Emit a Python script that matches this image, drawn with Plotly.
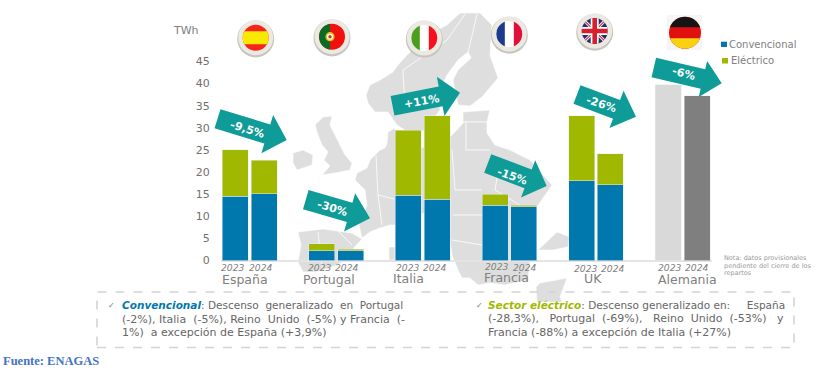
import numpy as np
import plotly.graph_objects as go

W, H = 836, 370

# ---------- data ----------
countries = ["España", "Portugal", "Italia", "Francia", "UK", "Alemania"]
years = ["2023", "2024"]
convencional = [14.5, 15.1, 2.2, 2.15, 14.75, 13.9, 12.5, 12.1, 18.0, 17.15]
electrico = [10.5, 7.6, 1.6, 0.45, 14.65, 18.8, 2.5, 0.45, 14.7, 6.95]
alemania_total = [39.7, 37.3]
variaciones = ["-9,5%", "-30%", "+11%", "-15%", "-26%", "-6%"]

BLUE, GREEN, TEAL = "#0078AD", "#A0B900", "#0F9B97"
GREY, MAP = "#808080", "#DEDEDE"
FONT = "DejaVu Sans"
NB = "\u00a0"

slots = []
for i, c in enumerate(countries):
    slots += [f"{c} {y}" for y in years]
    if i < len(countries) - 1:
        slots.append(" " * (i + 1))
stack_x = [f"{c} {y}" for c in countries[:5] for y in years]
ale_x = [f"Alemania {y}" for y in years]

fig = go.Figure()
fig.add_bar(x=stack_x, y=convencional, name="Convencional", marker_color=BLUE)
fig.add_bar(x=stack_x, y=electrico, name="Eléctrico", marker_color=GREEN)
fig.add_bar(x=ale_x, y=alemania_total, name="Alemania", marker_color=["#D9D9D9", "#7F7F7F"])

# ---------- helpers (pixel -> paper) ----------
shapes, annos = [], []
def px(x): return x / W
def py(y): return 1 - y / H

def poly(pts, fill, line=None, lw=0, layer="above"):
    d = "M" + " L".join(f"{px(x):.5f} {py(y):.5f}" for x, y in pts) + " Z"
    shapes.append(dict(type="path", path=d, xref="paper", yref="paper", fillcolor=fill, layer=layer,
                       line=dict(color=line or fill, width=lw)))

def polyline(pts, color="white", lw=0.8):
    d = "M" + " L".join(f"{px(x):.5f} {py(y):.5f}" for x, y in pts)
    shapes.append(dict(type="path", path=d, xref="paper", yref="paper", layer="below",
                       line=dict(color=color, width=lw)))

def disc(cx, cy, r, fill):
    shapes.append(dict(type="circle", xref="paper", yref="paper", x0=px(cx-r), x1=px(cx+r),
                       y0=py(cy+r), y1=py(cy-r), fillcolor=fill, line=dict(width=0), layer="above"))

def vstrip(cx, cy, r, x0, x1, fill):
    xs = np.linspace(max(x0, cx-r), min(x1, cx+r), 16)
    h = np.sqrt(np.maximum(r*r - (xs-cx)**2, 0))
    poly(list(zip(xs, cy-h)) + list(zip(xs[::-1], (cy+h)[::-1])), fill)

def hstrip(cx, cy, r, y0, y1, fill):
    ys = np.linspace(max(y0, cy-r), min(y1, cy+r), 16)
    w = np.sqrt(np.maximum(r*r - (ys-cy)**2, 0))
    poly(list(zip(cx-w, ys)) + list(zip((cx+w)[::-1], ys[::-1])), fill)

def text(x, y, s, size=10.5, color="#666666", anchor="left", angle=0, family=FONT):
    if anchor == "left":
        x -= 2
    annos.append(dict(xref="paper", yref="paper", x=px(x), y=py(y), text=s, showarrow=False,
                      xanchor=anchor, yanchor="middle", textangle=angle, align="left",
                      font=dict(size=size, color=color, family=family)))

def arrow(tail, tip, hb, hw, bw=20):
    t, p, b = map(np.array, (tail, tip, hb))
    u = (p - t) / np.linalg.norm(p - t)
    n = np.array([-u[1], u[0]])
    base = p - u * np.dot(p - b, u)
    pts = [t + n*bw/2, base + n*bw/2, base + n*hw/2, p, base - n*hw/2, base - n*bw/2, t - n*bw/2]
    poly([tuple(q) for q in pts], TEAL)

# ---------- background map ----------
land = [
 [(460,13),(447,25),(437,30),(423,38),(415,47),(407,55),(398,65),(393,72),(380,80),(370,85),(366,95),(368,103),
  (375,112),(388,112),(397,125),(412,135),(425,130),(440,110),(440,90),(447,75),(458,60),(468,52),(471,58),(458,70),
  (453,80),(456,95),(458,105),(470,106),(482,97),(498,78),(490,55),(492,25),(480,13)],
 [(463,112),(490,110),(487,122),(463,122)],
 [(357,173),(367,168),(370,160),(380,150),(385,148),(387,143),(388,132),(395,128),(396,145),(405,150),(425,147),
  (445,142),(455,132),(464,122),(487,122),(487,133),(495,145),(510,150),(530,160),(552,185),(537,207),(536,240),
  (530,262),(528,280),(505,285),(490,283),(478,285),(470,278),(462,278),(458,270),(452,255),(450,240),(450,200),
  (420,215),(395,225),(390,225),(380,228),(370,232),(362,238),(359,225),(367,205),(365,190),(355,180)],
 [(298,232),(323,229),(352,233),(362,239),(352,250),(343,262),(330,268),(315,272),(303,272),(298,262),(301,245)],
 [(323,117),(332,116),(330,125),(335,135),(340,145),(345,155),(352,163),(350,170),(335,173),(322,175),(330,166),
  (324,160),(328,152),(322,145),(318,135),(315,125)],
 [(293,153),(303,150),(313,155),(312,165),(297,170),(293,163)],
 [(389,247),(395,247),(395,260),(389,260)],
 [(557,232),(570,237),(568,247),(553,250),(538,250)],
 [(567,278),(560,297),(562,302),(537,302),(536,287),(540,283)],
]
for p in land:
    poly(p, MAP, "white", 0.6, layer="below")
for b in [[(465,14),(447,40),(403,70),(405,112)], [(477,14),(471,40),(468,52)],
          [(376,155),(378,195),(382,225)], [(378,195),(398,200)], [(452,150),(455,190),(482,190)],
          [(453,215),(482,215)], [(466,122),(466,150),(490,150)], [(318,232),(322,268)],
          [(336,229),(352,245)], [(500,160),(495,190),(536,215)], [(452,240),(482,245)]]:
    polyline(b)
shapes.append(dict(type="line", xref="paper", yref="paper", x0=px(221), x1=px(712), y0=py(261), y1=py(261),
                   line=dict(color="#E4E4E4", width=2), layer="below"))

# ---------- flags ----------
def halo(cx, cy):
    disc(cx, cy+1.2, 18.5, "#C6C6BE")
    disc(cx, cy, 17.5, "#EBE9E1")

cx, cy = 255.7, 37.7; halo(cx, cy); r = 13
disc(cx, cy, r, "#F5241C"); hstrip(cx, cy, r, cy-6.5, cy+6.5, "#F9E900")
cx, cy = 332, 36.7; halo(cx, cy)
disc(cx, cy, r, "#F0100E"); vstrip(cx, cy, r, cx-r, cx-2, "#0B6B22")
disc(cx-2, cy, 4.6, "#E5C21A"); disc(cx-2, cy, 3, "#FFFFFF"); disc(cx-2, cy, 1.7, "#C8342A")
cx, cy = 424.3, 38; halo(cx, cy)
disc(cx, cy, r, "#FFFFFF"); vstrip(cx, cy, r, cx-r, cx-4.5, "#4C9E1F"); vstrip(cx, cy, r, cx+4.5, cx+r, "#F8101C")
cx, cy = 509.3, 34; halo(cx, cy)
disc(cx, cy, r, "#FFFFFF"); vstrip(cx, cy, r, cx-r, cx-4.5, "#1B3C8C"); vstrip(cx, cy, r, cx+4.5, cx+r, "#E0103A")
cx, cy = 594.7, 31; halo(cx, cy)
disc(cx, cy, r, "#22306E")
d = 9.2
for (sx, col, lw) in [(1, "#FFFFFF", 3), (-1, "#FFFFFF", 3), (1, "#D5202E", 1.2), (-1, "#D5202E", 1.2)]:
    shapes.append(dict(type="line", xref="paper", yref="paper", x0=px(cx-d), x1=px(cx+d),
                       y0=py(cy-d*sx), y1=py(cy+d*sx), line=dict(color=col, width=lw), layer="above"))
hstrip(cx, cy, r, cy-4, cy+4, "#FFFFFF"); vstrip(cx, cy, r, cx-4, cx+4, "#FFFFFF")
hstrip(cx, cy, r, cy-2.3, cy+2.3, "#D5202E"); vstrip(cx, cy, r, cx-2.3, cx+2.3, "#D5202E")
cx, cy = 685, 32.7
poly([(667,15),(702,15),(702,50),(667,50)], "#F5F5F5")
r = 16
disc(cx, cy, r, "#E01010"); hstrip(cx, cy, r, cy-r, cy-5.5, "#151515"); hstrip(cx, cy, r, cy+5.5, cy+r, "#F8D210")

# ---------- arrows + labels ----------
arrows = [((217.5,118.7),(286.7,140),(267,135),40), ((305.8,199.7),(370,218.3),(349.6,212.5),40),
          ((392.5,105.7),(460,92.7),(440.6,96.2),40), ((487.7,163.5),(546.7,186),(527.8,179.7),40),
          ((577,94.5),(636,116.7),(616.6,109.2),40), ((653.8,67.5),(721.7,83.3),(703,78.7),37)]
labpos = [(247.3,129,17), (332.7,208.3,17), (421.7,101.7,-10), (512.7,176,19), (601.7,104,18), (683,74,15)]
for a, l, s in zip(arrows, labpos, variaciones):
    arrow(a[0], a[1], a[2], a[3])
    text(l[0], l[1], f"<b>{s}</b>", 11, "white", "center", l[2])

# ---------- year + country labels ----------
yr_shift = [-2.5, -3.3, -2, -3.3, 0, -1.8, 1.7, 1, 4, 3, 2, 0]
yr_cat = [f"{c} {y}" for c in countries for y in years]
yr_y = [267, 267, 267, 267, 267, 267, 266.5, 267, 268, 268, 267.5, 267.5]
for c, s, yy in zip(yr_cat, yr_shift, yr_y):
    annos.append(dict(xref="x", yref="paper", x=c, y=py(yy), xshift=s, showarrow=False, text=c.split()[-1],
                      xanchor="center", yanchor="middle",
                      font=dict(size=9.2, color=GREY, family=FONT, style="italic")))
cn_pos = [(245,279), (329,279), (408,278), (506,277), (593,278.5), (687,279)]
for c, (x, y) in zip(countries, cn_pos):
    text(x, y, c, 12.5, GREY, "center")

# ---------- other text ----------
text(172.5, 30, "TWh", 11, GREY)
poly([(721,41.7),(727,41.7),(727,47),(721,47)], BLUE)
poly([(722,58),(728,58),(728,63.5),(722,63.5)], GREEN)
text(729.3, 44.3, "Convencional", 10, GREY)
text(730.7, 60.7, "Eléctrico", 10, GREY)
for yy, t in zip([258, 265.5, 273], ["Nota: datos provisionales", "pendiente del cierre de los", "repartos"]):
    text(724, yy, t, 6.5, "#999999")

shapes.append(dict(type="rect", xref="paper", yref="paper", x0=px(97), x1=px(794), y0=py(347.5), y1=py(292),
                   line=dict(color="#D4D4D4", width=1.6, dash="dash"), layer="above"))
text(107.5, 305, "✓", 8, "#777777")
text(475.5, 305, "✓", 8, "#777777")
text(121.7, 305, f"<b><i><span style='color:{BLUE}'>Convencional</span></i></b>: Descenso{NB} generalizado{NB} en{NB} Portugal", 10.5)
text(121.7, 319, f"(-2%), Italia{NB} (-5%), Reino{NB} Unido{NB} (-5%) y Francia{NB} (-", 11)
text(121.7, 332.3, f"1%){NB} a excepción de España (+3,9%)", 11)
text(487.7, 305, f"<b><i><span style='color:{GREEN}'>Sector eléctrico</span></i></b>: Descenso generalizado en:{NB}{NB}{NB}{NB} España", 10.5)
text(487.7, 318.5, f"(-28,3%),{NB}{NB} Portugal{NB} (-69%),{NB}{NB} Reino{NB} Unido{NB} (-53%){NB}{NB} y", 11)
text(487.7, 332, "Francia (-88%) a excepción de Italia (+27%)", 11)
text(3, 361, "<b>Fuente: ENAGAS</b>", 12.5, "#4472C4", family="Liberation Serif")

fig.update_layout(
    width=W, height=H, autosize=False, margin=dict(l=0, r=0, t=0, b=0),
    paper_bgcolor="white", plot_bgcolor="rgba(0,0,0,0)", showlegend=False,
    barmode="stack", bargap=0.1, shapes=shapes, annotations=annos,
    font=dict(family=FONT, color=GREY),
    xaxis=dict(domain=[220.8/W, 711.5/W], type="category", categoryorder="array", categoryarray=slots, automargin=False,
               range=[-0.5, 16.5], showticklabels=False, ticks="", showgrid=False, zeroline=False, showline=False),
    yaxis=dict(domain=[1-260.5/H, 1-61.5/H], range=[0, 45], tickvals=list(range(0, 50, 5)), showgrid=False, automargin=False,
               zeroline=False, showline=False, ticks="", ticklabelstandoff=10,
               tickfont=dict(size=11, color="#707070", family=FONT)),
)
fig.write_html("out.html", post_script="document.body.style.margin='0';document.body.style.overflow='hidden';",
               config=dict(displayModeBar=False))
